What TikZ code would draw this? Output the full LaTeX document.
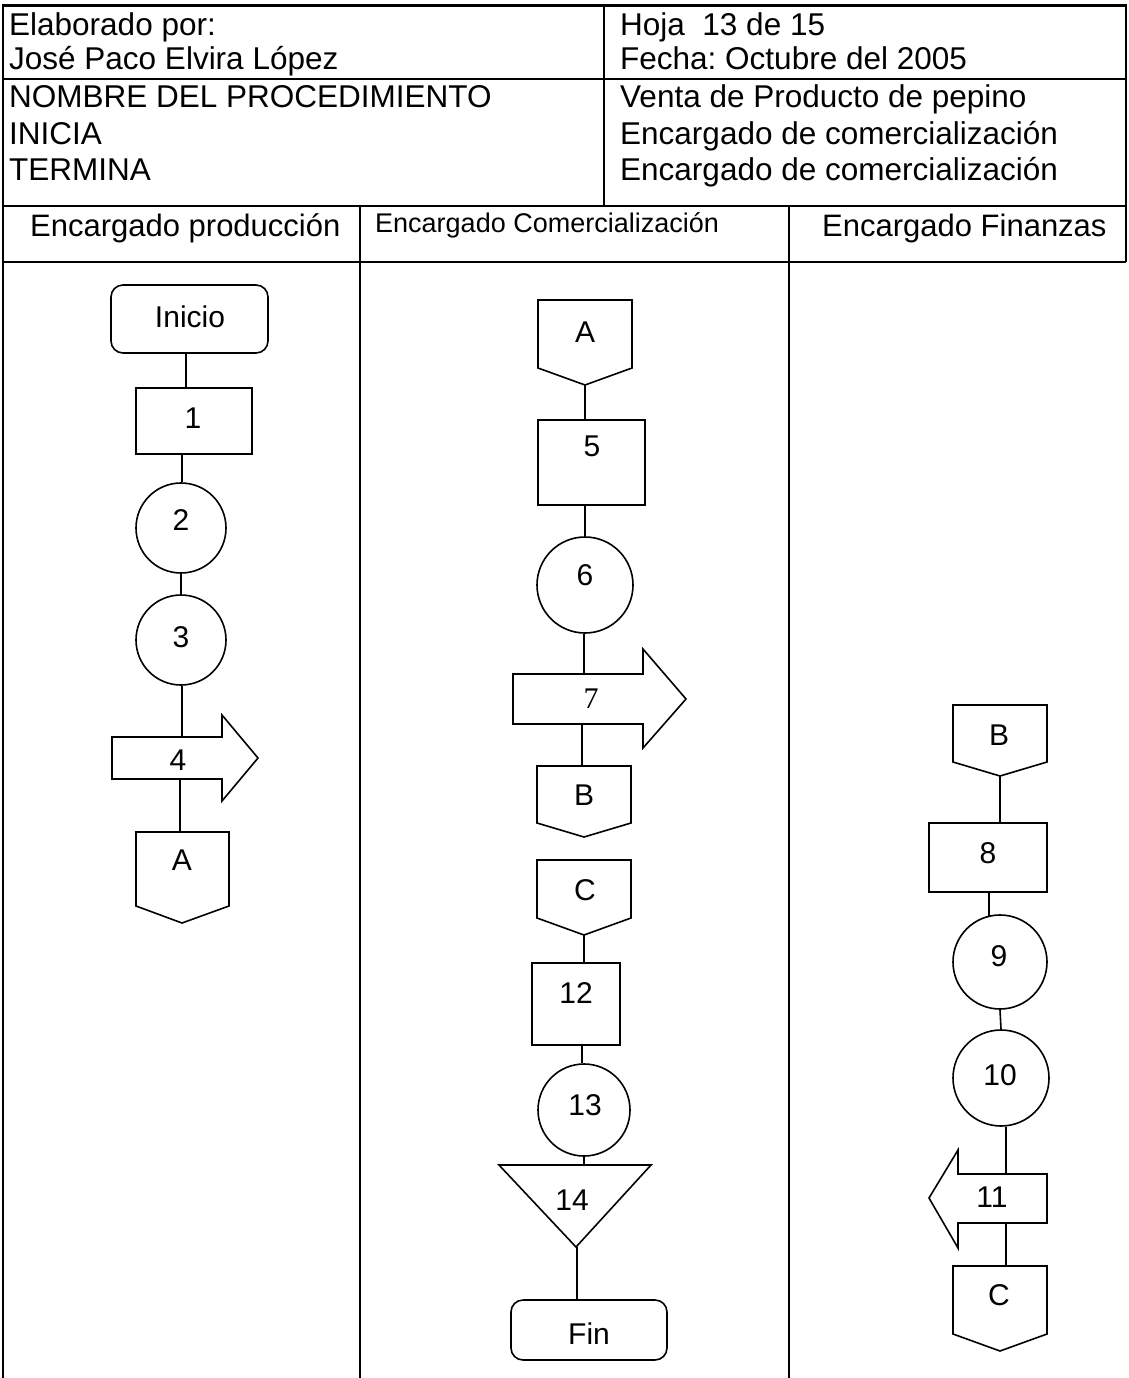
\documentclass[tikz,border=0pt]{standalone}
\usepackage{fontspec}
\setmainfont{Liberation Sans}
\newfontfamily\serifx{Liberation Serif}
\frenchspacing
\begin{document}
\begin{tikzpicture}[x=1pt,y=-1pt,
  shp/.style={draw,line width=1.6pt},
  grid/.style={line width=2.2pt},
  lbl/.style={font=\fontsize{30}{36}\selectfont, inner sep=0pt},
  hdr/.style={font=\fontsize{31.5}{36}\selectfont, inner sep=0pt, anchor=base west},
  lane/.style={font=\fontsize{31}{36}\selectfont, inner sep=0pt, anchor=base west},
  box/.style={shp, rectangle, inner sep=0pt},
  term/.style={shp, rectangle, rounded corners=12pt, inner sep=0pt},
  circ/.style={shp, circle, inner sep=0pt},
  link/.style={line width=1.6pt}
]
\useasboundingbox (0,0) rectangle (1128,1378);

% ---------- table ----------
\draw[line width=3pt] (2,6) -- (1127,6);
\draw[grid] (3,79) -- (1126,79);
\draw[grid] (3,206) -- (1126,206);
\draw[grid] (3,262) -- (1126,262);
\draw[grid] (3,5) -- (3,1378);
\draw[grid] (1126,5) -- (1126,262);
\draw[grid] (604,6) -- (604,206);
\draw[grid] (360,206) -- (360,1378);
\draw[grid] (789,206) -- (789,1378);

\node[hdr] (h1) at (9,36) {Elaborado por:};
\node[hdr] (h2) at (9,70) {José Paco Elvira López};
\node[hdr] (h3) at (9,108) {NOMBRE DEL PROCEDIMIENTO};
\node[hdr] (h4) at (9,144) {INICIA};
\node[hdr] (h5) at (9,180) {TERMINA};
\node[hdr] (r1) at (620,36) {Hoja\ \ 13 de 15};
\node[hdr] (r2) at (620,70) {Fecha: Octubre del 2005};
\node[hdr] (r3) at (620,108) {Venta de Producto de pepino};
\node[hdr] (r4) at (620,144) {Encargado de comercialización};
\node[hdr] (r5) at (620,180) {Encargado de comercialización};

\node[lane] (l1) at (30,236) {Encargado producción};
\node[lane, font=\fontsize{27}{32}\selectfont] (l2) at (375,232) {Encargado Comercialización};
\node[lane] (l3) at (822,236) {Encargado Finanzas};

% ---------- lane 1 ----------
\node[term, minimum width=157pt, minimum height=68pt] (ini) at (189.5,319) {};
\node[lbl] (tini) at (190,317) {Inicio};
\node[box, minimum width=116pt, minimum height=66pt] (n1) at (194,421) {};
\node[lbl] (t1) at (193,418) {1};
\node[circ, minimum size=90pt] (c2) at (181,528) {};
\node[lbl] (t2) at (181,520) {2};
\node[circ, minimum size=90pt] (c3) at (181,640) {};
\node[lbl] (t3) at (181,637) {3};
\draw[shp] (112,737) -- (222,737) -- (222,715) -- (258,758) -- (222,801) -- (222,779) -- (112,779) -- cycle;
\coordinate (a4t) at (182,737);
\coordinate (a4b) at (180,779);
\node[lbl] (t4) at (178,760) {4};
\draw[shp] (136,832) -- (229,832) -- (229,906) -- (182,923) -- (136,906) -- cycle;
\coordinate (A1t) at (180,832);
\node[lbl] (tA1) at (182,860) {A};

\draw[link] (ini.south -| 186,0) -- (n1.north -| 186,0);
\draw[link] (n1.south -| 182,0) -- (c2.north -| 182,0);
\draw[link] (c2.south) -- (c3.north);
\draw[link] (c3.south -| a4t) -- (a4t);
\draw[link] (a4b) -- (A1t);

% ---------- lane 2 ----------
\draw[shp] (538,300) -- (632,300) -- (632,368) -- (585,385) -- (538,368) -- cycle;
\coordinate (A2p) at (585,385);
\node[lbl] (tA2) at (585,332) {A};
\node[box, minimum width=107pt, minimum height=85pt] (n5) at (591.5,462.5) {};
\node[lbl] (t5) at (592,446) {5};
\node[circ, minimum size=96pt] (c6) at (585,585) {};
\node[lbl] (t6) at (585,575) {6};
\draw[shp] (513,674) -- (643,674) -- (643,649) -- (686,699) -- (643,748) -- (643,724) -- (513,724) -- cycle;
\coordinate (a7t) at (584,674);
\coordinate (a7b) at (582,724);
\node[lbl, font=\serifx\fontsize{30}{36}\selectfont] (t7) at (591,699) {7};
\draw[shp] (537,766) -- (631,766) -- (631,823) -- (584,837) -- (537,823) -- cycle;
\coordinate (B2t) at (582,766);
\node[lbl] (tB2) at (584,795) {B};
\draw[shp] (537,860) -- (631,860) -- (631,918) -- (584,935) -- (537,918) -- cycle;
\coordinate (C2p) at (584,935);
\node[lbl] (tC2) at (585,890) {C};
\node[box, minimum width=88pt, minimum height=82pt] (n12) at (576,1004) {};
\node[lbl] (t12) at (576,993) {12};
\node[circ, minimum size=92pt] (c13) at (584,1110) {};
\node[lbl] (t13) at (585,1105) {13};
\draw[shp] (499,1165) -- (651,1165) -- (576,1247) -- cycle;
\coordinate (tri14t) at (584,1165);
\coordinate (tri14b) at (577,1247);
\node[lbl] (t14) at (572,1200) {14};
\node[term, minimum width=156pt, minimum height=60pt] (fin) at (589,1330) {};
\node[lbl] (tfin) at (589,1334) {Fin};

\draw[link] (A2p) -- (A2p |- n5.north);
\draw[link] (n5.south -| 585,0) -- (c6.north);
\draw[link] (c6.south -| a7t) -- (a7t);
\draw[link] (a7b) -- (B2t);
\draw[link] (C2p) -- (C2p |- n12.north);
\draw[link] (n12.south -| 582,0) -- (c13.north -| 582,0);
\draw[link] (c13.south) -- (tri14t);
\draw[link] (tri14b) -- (tri14b |- fin.north);

% ---------- lane 3 ----------
\draw[shp] (953,705) -- (1047,705) -- (1047,762) -- (1000,776) -- (953,762) -- cycle;
\coordinate (B3p) at (1000,776);
\node[lbl] (tB3) at (999,735) {B};
\node[box, minimum width=118pt, minimum height=69pt] (n8) at (988,857.5) {};
\node[lbl] (t8) at (988,853) {8};
\node[circ, minimum size=94pt] (c9) at (1000,962) {};
\node[lbl] (t9) at (999,956) {9};
\node[circ, minimum size=96pt] (c10) at (1001,1078) {};
\node[lbl] (t10) at (1000,1075) {10};
\draw[shp] (1047,1174) -- (958,1174) -- (958,1150) -- (929,1198) -- (958,1248) -- (958,1223) -- (1047,1223) -- cycle;
\coordinate (a11t) at (1006,1174);
\coordinate (a11b) at (1006,1223);
\node[lbl] (t11) at (992,1197) {11};
\draw[shp] (953,1266) -- (1047,1266) -- (1047,1334) -- (1000,1351) -- (953,1334) -- cycle;
\coordinate (C3t) at (1006,1266);
\node[lbl] (tC3) at (999,1295) {C};

\draw[link] (B3p) -- (B3p |- n8.north);
\draw[link] (n8.south -| 989,0) -- (989,916);
\draw[link] (c9.south) -- (c10.north);
\draw[link] (c10.south -| a11t) -- (a11t);
\draw[link] (a11b) -- (C3t);
\end{tikzpicture}
\end{document}
